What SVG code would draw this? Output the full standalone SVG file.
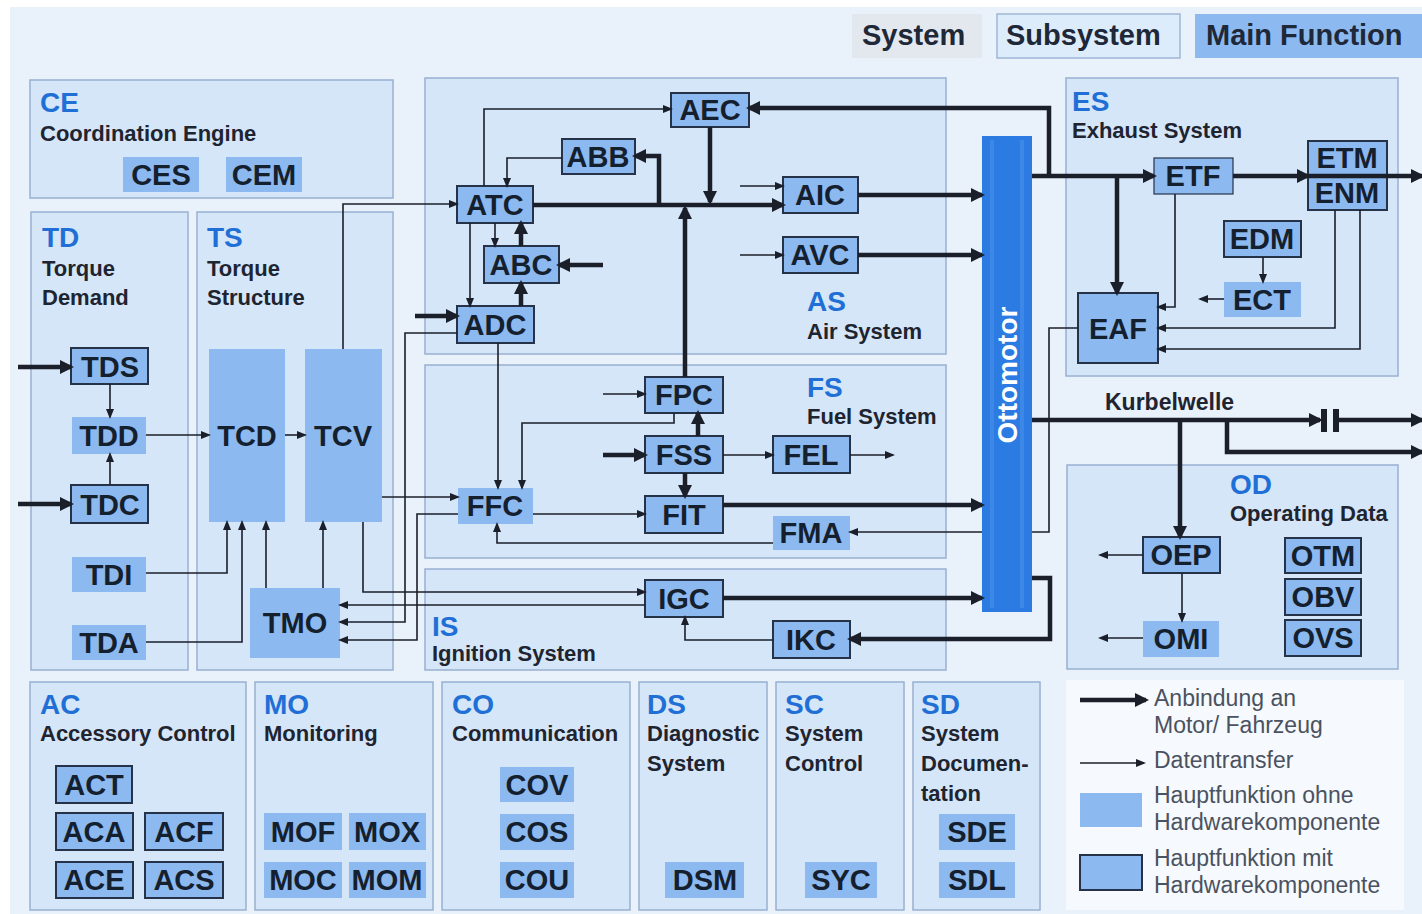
<svg xmlns="http://www.w3.org/2000/svg" width="1422" height="914" viewBox="0 0 1422 914">
<defs>
<style>
.sub{fill:#d5e6f8;stroke:#98b0d2;stroke-width:1.5}
.mf{fill:#8cb9ef}
.mfb{fill:#8cb9ef;stroke:#263248;stroke-width:2}
.lbl{font-family:"Liberation Sans",Arial,sans-serif;font-weight:bold;font-size:29px;fill:#15202e;text-anchor:middle}
.code{font-family:"Liberation Sans",Arial,sans-serif;font-weight:bold;font-size:28px;fill:#1f6fd6}
.name{font-family:"Liberation Sans",Arial,sans-serif;font-weight:bold;font-size:22px;fill:#1e2430}
.leg{font-family:"Liberation Sans",Arial,sans-serif;font-size:23px;fill:#4a5260}
.top{font-family:"Liberation Sans",Arial,sans-serif;font-weight:bold;font-size:29px;fill:#1e2838}
.t{fill:none;stroke:#1b1f2a;stroke-width:1.6;marker-end:url(#at)}
.tn{fill:none;stroke:#1b1f2a;stroke-width:1.6}
.k{fill:none;stroke:#1b1f2a;stroke-width:4.5;marker-end:url(#ak)}
.kn{fill:none;stroke:#1b1f2a;stroke-width:4.5}
</style>
<marker id="at" viewBox="0 0 10 8" refX="8" refY="4" markerWidth="10" markerHeight="8" orient="auto" markerUnits="userSpaceOnUse"><path d="M0,0 L10,4 L0,8 z" fill="#1b1f2a"/></marker>
<marker id="ak" viewBox="0 0 14 14" refX="11" refY="7" markerWidth="14" markerHeight="14" orient="auto" markerUnits="userSpaceOnUse"><path d="M0,0 L14,7 L0,14 z" fill="#1b1f2a"/></marker>
</defs>
<rect x="0" y="0" width="1422" height="914" fill="#ffffff"/>
<rect x="10" y="7" width="1412" height="907" fill="#e9f1fb"/>

<g id="header-legend">
<rect x="852" y="14" width="130" height="44" fill="#e3e8ee"/>
<text class="top" x="862" y="45">System</text>
<rect x="997" y="14" width="183" height="44" fill="#dcecfb" stroke="#9fb6d6" stroke-width="1.5"/>
<text class="top" x="1006" y="45">Subsystem</text>
<rect x="1195" y="14" width="227" height="44" fill="#8cb9ef"/>
<text class="top" x="1206" y="45">Main Function</text>
</g>

<g id="subsystems">
<g id="CE-box"><rect class="sub" x="30" y="80" width="363" height="118"/><text class="code" x="40" y="112">CE</text><text class="name" x="40" y="141">Coordination Engine</text></g>
<g id="TD-box"><rect class="sub" x="31" y="212" width="157" height="458"/><text class="code" x="42" y="247">TD</text><text class="name" x="42" y="276">Torque</text><text class="name" x="42" y="305">Demand</text></g>
<g id="TS-box"><rect class="sub" x="197" y="212" width="196" height="458"/><text class="code" x="207" y="247">TS</text><text class="name" x="207" y="276">Torque</text><text class="name" x="207" y="305">Structure</text></g>
<g id="AS-box"><rect class="sub" x="425" y="78" width="521" height="276"/><text class="code" x="807" y="311">AS</text><text class="name" x="807" y="339">Air System</text></g>
<g id="FS-box"><rect class="sub" x="425" y="365" width="521" height="193"/><text class="code" x="807" y="397">FS</text><text class="name" x="807" y="424">Fuel System</text></g>
<g id="IS-box"><rect class="sub" x="425" y="569" width="521" height="101"/><text class="code" x="432" y="636">IS</text><text class="name" x="432" y="661">Ignition System</text></g>
<g id="ES-box"><rect class="sub" x="1066" y="78" width="332" height="298"/><text class="code" x="1072" y="111">ES</text><text class="name" x="1072" y="138">Exhaust System</text></g>
<g id="OD-box"><rect class="sub" x="1067" y="465" width="331" height="204"/><text class="code" x="1230" y="494">OD</text><text class="name" x="1230" y="521">Operating Data</text></g>
<g id="AC-box"><rect class="sub" x="30" y="682" width="216" height="228"/><text class="code" x="40" y="714">AC</text><text class="name" x="40" y="741">Accessory Control</text></g>
<g id="MO-box"><rect class="sub" x="255" y="682" width="178" height="228"/><text class="code" x="264" y="714">MO</text><text class="name" x="264" y="741">Monitoring</text></g>
<g id="CO-box"><rect class="sub" x="442" y="682" width="188" height="228"/><text class="code" x="452" y="714">CO</text><text class="name" x="452" y="741">Communication</text></g>
<g id="DS-box"><rect class="sub" x="639" y="682" width="128" height="228"/><text class="code" x="647" y="714">DS</text><text class="name" x="647" y="741">Diagnostic</text><text class="name" x="647" y="771">System</text></g>
<g id="SC-box"><rect class="sub" x="776" y="682" width="128" height="228"/><text class="code" x="785" y="714">SC</text><text class="name" x="785" y="741">System</text><text class="name" x="785" y="771">Control</text></g>
<g id="SD-box"><rect class="sub" x="913" y="682" width="127" height="228"/><text class="code" x="921" y="714">SD</text><text class="name" x="921" y="741">System</text><text class="name" x="921" y="771">Documen-</text><text class="name" x="921" y="801">tation</text></g>
</g>

<g id="nodes">
<g id="CES"><rect class="mf" x="123" y="157" width="76" height="35"/><text class="lbl" x="161" y="185">CES</text></g>
<g id="CEM"><rect class="mf" x="226" y="157" width="76" height="35"/><text class="lbl" x="264" y="185">CEM</text></g>
<g id="TDS"><rect class="mfb" x="71" y="348" width="77" height="36"/><text class="lbl" x="110" y="377">TDS</text></g>
<g id="TDD"><rect class="mf" x="72" y="417" width="74" height="37"/><text class="lbl" x="109" y="446">TDD</text></g>
<g id="TDC"><rect class="mfb" x="71" y="485" width="77" height="38"/><text class="lbl" x="110" y="515">TDC</text></g>
<g id="TDI"><rect class="mf" x="72" y="557" width="74" height="35"/><text class="lbl" x="109" y="585">TDI</text></g>
<g id="TDA"><rect class="mf" x="72" y="625" width="74" height="35"/><text class="lbl" x="109" y="653">TDA</text></g>
<g id="TCD"><rect class="mf" x="209" y="349" width="76" height="173"/><text class="lbl" x="247" y="446">TCD</text></g>
<g id="TCV"><rect class="mf" x="305" y="349" width="77" height="173"/><text class="lbl" x="343" y="446">TCV</text></g>
<g id="TMO"><rect class="mf" x="250" y="588" width="90" height="70"/><text class="lbl" x="295" y="633">TMO</text></g>
<g id="AEC"><rect class="mfb" x="671" y="93" width="78" height="34"/><text class="lbl" x="710" y="120">AEC</text></g>
<g id="ABB"><rect class="mfb" x="562" y="139" width="73" height="35"/><text class="lbl" x="598" y="167">ABB</text></g>
<g id="ATC"><rect class="mfb" x="457" y="186" width="76" height="37"/><text class="lbl" x="495" y="215">ATC</text></g>
<g id="ABC"><rect class="mfb" x="484" y="246" width="75" height="37"/><text class="lbl" x="521" y="275">ABC</text></g>
<g id="ADC"><rect class="mfb" x="457" y="306" width="77" height="37"/><text class="lbl" x="495" y="335">ADC</text></g>
<g id="AIC"><rect class="mfb" x="783" y="177" width="75" height="36"/><text class="lbl" x="820" y="205">AIC</text></g>
<g id="AVC"><rect class="mfb" x="783" y="237" width="75" height="36"/><text class="lbl" x="820" y="265">AVC</text></g>
<g id="FPC"><rect class="mfb" x="645" y="377" width="78" height="36"/><text class="lbl" x="684" y="405">FPC</text></g>
<g id="FSS"><rect class="mfb" x="645" y="436" width="78" height="37"/><text class="lbl" x="684" y="465">FSS</text></g>
<g id="FEL"><rect class="mfb" x="773" y="436" width="77" height="37"/><text class="lbl" x="811" y="465">FEL</text></g>
<g id="FFC"><rect class="mf" x="458" y="488" width="75" height="36"/><text class="lbl" x="495" y="516">FFC</text></g>
<g id="FIT"><rect class="mfb" x="645" y="496" width="78" height="37"/><text class="lbl" x="684" y="525">FIT</text></g>
<g id="FMA"><rect class="mf" x="773" y="516" width="77" height="34"/><text class="lbl" x="811" y="543">FMA</text></g>
<g id="IGC"><rect class="mfb" x="645" y="580" width="78" height="37"/><text class="lbl" x="684" y="609">IGC</text></g>
<g id="IKC"><rect class="mfb" x="773" y="621" width="77" height="37"/><text class="lbl" x="811" y="650">IKC</text></g>
<g id="ETF"><rect class="mfb" x="1154" y="158" width="79" height="36" style="stroke-width:1.2"/><text class="lbl" x="1193" y="186">ETF</text></g>
<g id="ETM-ENM"><rect class="mfb" x="1308" y="141" width="79" height="69"/><text class="lbl" x="1347" y="168">ETM</text><text class="lbl" x="1347" y="203">ENM</text></g>
<g id="EDM"><rect class="mfb" x="1224" y="221" width="77" height="36"/><text class="lbl" x="1262" y="249">EDM</text></g>
<g id="ECT"><rect class="mf" x="1224" y="282" width="77" height="35"/><text class="lbl" x="1262" y="310">ECT</text></g>
<g id="EAF"><rect class="mfb" x="1078" y="293" width="80" height="70"/><text class="lbl" x="1118" y="339">EAF</text></g>
<g id="OEP"><rect class="mfb" x="1143" y="537" width="77" height="36"/><text class="lbl" x="1181" y="565">OEP</text></g>
<g id="OMI"><rect class="mf" x="1143" y="621" width="76" height="36"/><text class="lbl" x="1181" y="649">OMI</text></g>
<g id="OTM"><rect class="mfb" x="1285" y="538" width="76" height="35"/><text class="lbl" x="1323" y="566">OTM</text></g>
<g id="OBV"><rect class="mfb" x="1285" y="579" width="76" height="36"/><text class="lbl" x="1323" y="607">OBV</text></g>
<g id="OVS"><rect class="mfb" x="1285" y="620" width="76" height="36"/><text class="lbl" x="1323" y="648">OVS</text></g>
<g id="ACT"><rect class="mfb" x="56" y="766" width="76" height="37"/><text class="lbl" x="94" y="795">ACT</text></g>
<g id="ACA"><rect class="mfb" x="56" y="813" width="77" height="37"/><text class="lbl" x="94" y="842">ACA</text></g>
<g id="ACF"><rect class="mfb" x="145" y="813" width="78" height="37"/><text class="lbl" x="184" y="842">ACF</text></g>
<g id="ACE"><rect class="mfb" x="56" y="862" width="77" height="36"/><text class="lbl" x="94" y="890">ACE</text></g>
<g id="ACS"><rect class="mfb" x="145" y="862" width="78" height="36"/><text class="lbl" x="184" y="890">ACS</text></g>
<g id="MOF"><rect class="mf" x="264" y="813" width="78" height="37"/><text class="lbl" x="303" y="842">MOF</text></g>
<g id="MOX"><rect class="mf" x="349" y="813" width="77" height="37"/><text class="lbl" x="387" y="842">MOX</text></g>
<g id="MOC"><rect class="mf" x="264" y="862" width="78" height="36"/><text class="lbl" x="303" y="890">MOC</text></g>
<g id="MOM"><rect class="mf" x="349" y="862" width="77" height="36"/><text class="lbl" x="387" y="890">MOM</text></g>
<g id="COV"><rect class="mf" x="500" y="767" width="74" height="35"/><text class="lbl" x="537" y="795">COV</text></g>
<g id="COS"><rect class="mf" x="500" y="814" width="74" height="36"/><text class="lbl" x="537" y="842">COS</text></g>
<g id="COU"><rect class="mf" x="500" y="862" width="74" height="36"/><text class="lbl" x="537" y="890">COU</text></g>
<g id="DSM"><rect class="mf" x="665" y="862" width="79" height="36"/><text class="lbl" x="705" y="890">DSM</text></g>
<g id="SYC"><rect class="mf" x="805" y="862" width="72" height="36"/><text class="lbl" x="841" y="890">SYC</text></g>
<g id="SDE"><rect class="mf" x="939" y="814" width="76" height="36"/><text class="lbl" x="977" y="842">SDE</text></g>
<g id="SDL"><rect class="mf" x="939" y="862" width="76" height="36"/><text class="lbl" x="977" y="890">SDL</text></g>
<g id="Ottomotor"><rect x="982" y="136" width="50" height="476" fill="#2b7be3"/><rect x="990" y="140" width="4" height="468" fill="#4a90ea" opacity="0.6"/><rect x="1020" y="140" width="4" height="468" fill="#4a90ea" opacity="0.6"/><text x="0" y="0" transform="translate(1017,375) rotate(-90)" text-anchor="middle" font-family="Liberation Sans, Arial, sans-serif" font-weight="bold" font-size="28" fill="#ffffff">Ottomotor</text></g>
<g id="Kurbelwelle"><text class="name" x="1105" y="410" style="font-size:23px">Kurbelwelle</text><rect x="1321" y="409" width="6" height="23" fill="#1b1f2a"/><rect x="1333" y="409" width="6" height="23" fill="#1b1f2a"/></g>
</g>

<g id="connectors">
<path class="k" d="M18 367 H71"/>
<path class="k" d="M18 504 H71"/>
<path class="t" d="M110 384 V417"/>
<path class="t" d="M110 485 V454"/>
<path class="t" d="M146 435 H209"/>
<path class="t" d="M285 435 H305"/>
<path class="t" d="M146 573 H227 V522"/>
<path class="t" d="M146 642 H242 V522"/>
<path class="t" d="M266 588 V522"/>
<path class="t" d="M323 588 V522"/>
<path class="t" d="M343 349 V204 H457"/>
<path class="t" d="M457 333 H405 V622 H340"/>
<path class="t" d="M645 605 H340"/>
<path class="t" d="M458 514 H417 V640 H340"/>
<path class="t" d="M382 497 H458"/>
<path class="t" d="M363 522 V592 H645"/>
<path class="t" d="M498 343 V488"/>
<path class="t" d="M674 413 V423 H522 V488"/>
<path class="t" d="M533 514 H645"/>
<path class="t" d="M773 543 H497 V524"/>
<path class="tn" d="M1078 328 H1049 V532 H1032"/>
<path class="t" d="M982 532 H850"/>
<path class="t" d="M773 640 H685 V617"/>
<path class="t" d="M603 394 H645"/>
<path class="t" d="M723 455 H773"/>
<path class="t" d="M850 455 H893"/>
<path class="t" d="M484 186 V109 H671"/>
<path class="t" d="M562 158 H507 V186"/>
<path class="t" d="M495 223 V246"/>
<path class="t" d="M470 223 V306"/>
<path class="t" d="M740 186 H783"/>
<path class="t" d="M740 255 H783"/>
<path class="t" d="M1175 194 V307 H1158"/>
<path class="t" d="M1224 299 H1200"/>
<path class="t" d="M1263 257 V282"/>
<path class="t" d="M1335 210 V328 H1158"/>
<path class="t" d="M1360 210 V349 H1158"/>
<path class="t" d="M1143 555 H1100"/>
<path class="t" d="M1182 573 V621"/>
<path class="t" d="M1143 638 H1100"/>
<path class="k" d="M415 316 H457"/>
<path class="k" d="M533 205 H783"/>
<path class="k" d="M659 205 V156 H635"/>
<path class="k" d="M710 127 V202"/>
<path class="k" d="M521 246 V223"/>
<path class="k" d="M603 265 H559"/>
<path class="k" d="M521 306 V283"/>
<path class="k" d="M685 377 V208"/>
<path class="k" d="M858 195 H982"/>
<path class="k" d="M858 255 H982"/>
<path class="k" d="M603 455 H645"/>
<path class="k" d="M698 436 V413"/>
<path class="k" d="M685 473 V496"/>
<path class="k" d="M723 505 H982"/>
<path class="k" d="M723 598 H982"/>
<path class="k" d="M1032 578 H1050 V639 H850"/>
<path class="k" d="M1032 176 H1154"/>
<path class="k" d="M1049 176 V108 H749"/>
<path class="k" d="M1117 176 V293"/>
<path class="k" d="M1233 176 H1308"/>
<path class="k" d="M1308 176 H1422"/>
<path class="k" d="M1032 420 H1320"/>
<path class="k" d="M1339 420 H1422"/>
<path class="k" d="M1180 420 V537"/>
<path class="k" d="M1227 420 V452 H1422"/>
</g>

<g id="legend">
<rect x="1066" y="680" width="338" height="230" fill="#f6f9fd"/>
<path class="k" d="M1080 700 H1146"/>
<text class="leg" x="1154" y="706">Anbindung an</text>
<text class="leg" x="1154" y="733">Motor/ Fahrzeug</text>
<path class="t" d="M1080 763 H1144"/>
<text class="leg" x="1154" y="768">Datentransfer</text>
<rect x="1080" y="793" width="62" height="34" fill="#8cb9ef"/>
<text class="leg" x="1154" y="803">Hauptfunktion ohne</text>
<text class="leg" x="1154" y="830">Hardwarekomponente</text>
<rect x="1080" y="855" width="62" height="35" fill="#8cb9ef" stroke="#263248" stroke-width="2"/>
<text class="leg" x="1154" y="866">Hauptfunktion mit</text>
<text class="leg" x="1154" y="893">Hardwarekomponente</text>
</g>
</svg>
